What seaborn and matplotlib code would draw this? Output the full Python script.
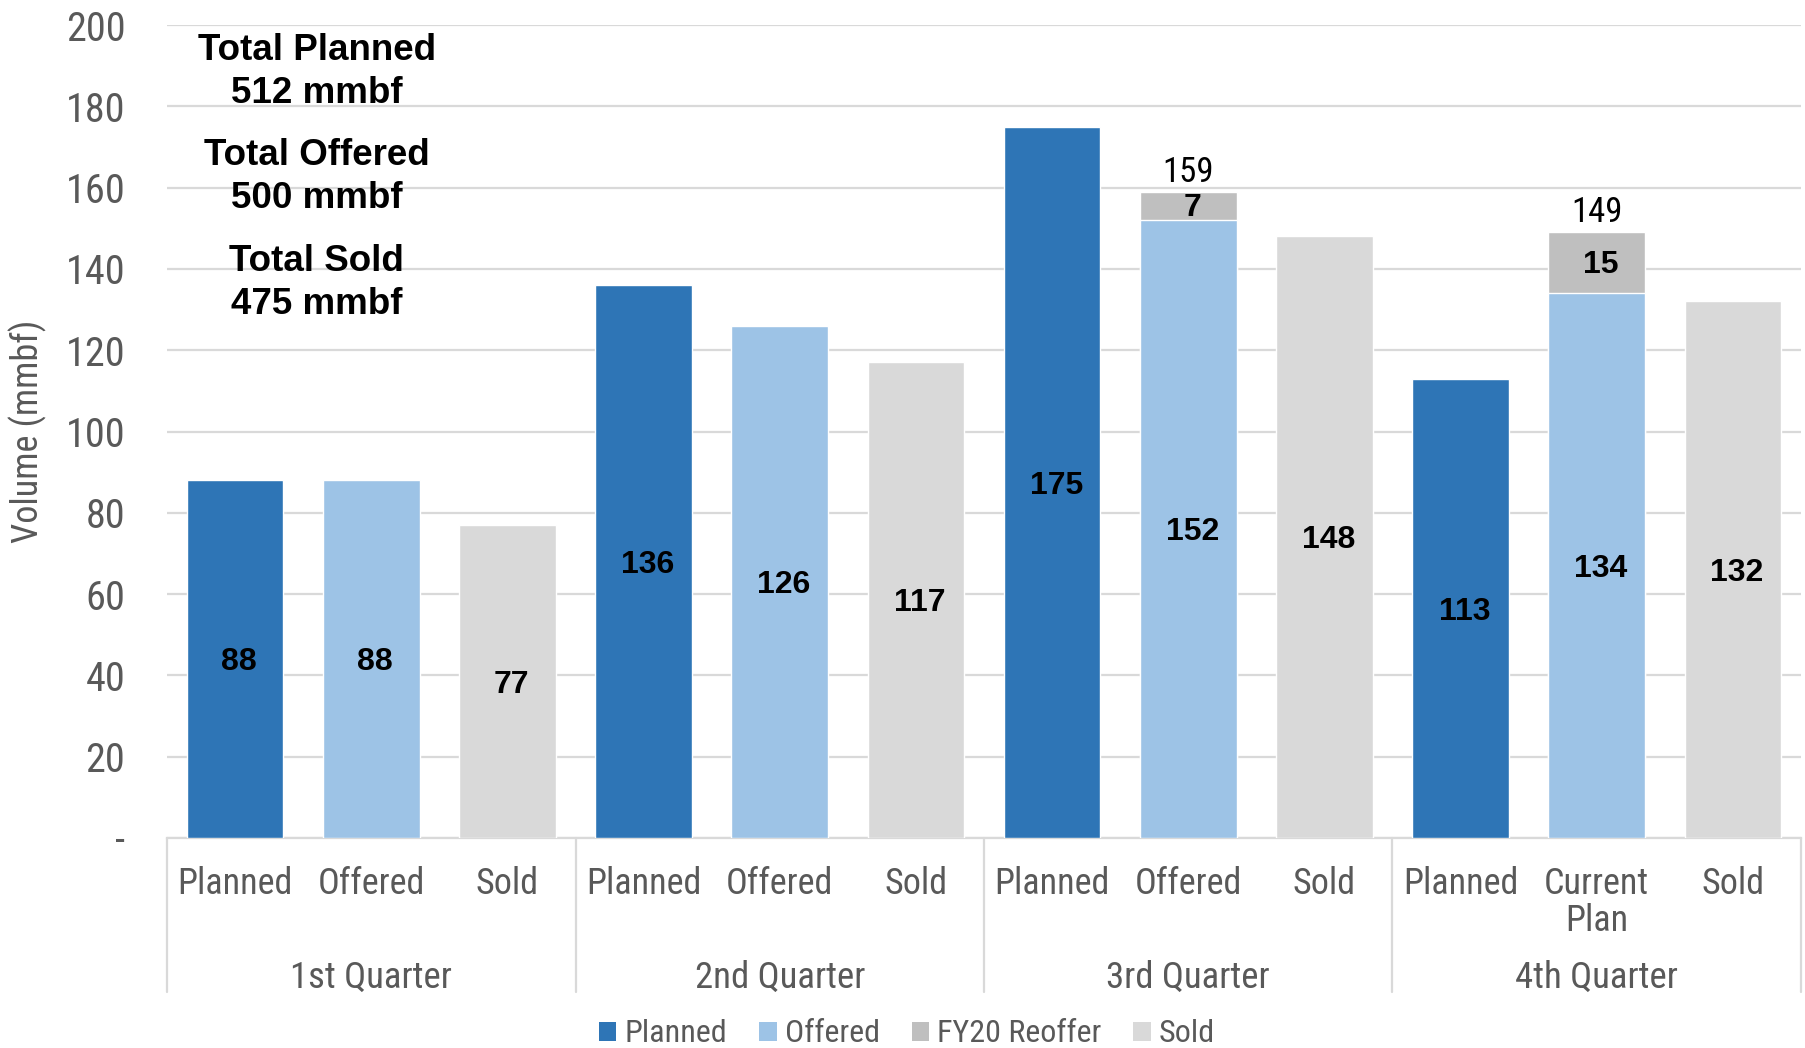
import matplotlib
matplotlib.use("Agg")
import matplotlib.pyplot as plt
import matplotlib.transforms as mtransforms
from matplotlib.patches import Patch
import seaborn as sns
import pandas as pd

# ---- data ----
quarters = ["1st Quarter", "2nd Quarter", "3rd Quarter", "4th Quarter"]
bar_labels = ["Planned", "Offered", "Sold",
              "Planned", "Offered", "Sold",
              "Planned", "Offered", "Sold",
              "Planned", "Current\nPlan", "Sold"]
bar_series = ["Planned", "Offered", "Sold"] * 4
bar_values = [88, 88, 77, 136, 126, 117, 175, 152, 148, 113, 134, 132]
reoffer_slots = [7, 10]
reoffer_values = [7, 15]
reoffer_totals = [159, 149]
ytick_values = [0, 20, 40, 60, 80, 100, 120, 140, 160, 180, 200]
ytick_labels = ["-", "20", "40", "60", "80", "100", "120", "140", "160", "180", "200"]
totals_text = ["Total Planned\n512 mmbf", "Total Offered\n500 mmbf", "Total Sold\n475 mmbf"]
totals_y = [188.5, 162.5, 136.5]
legend_names = ["Planned", "Offered", "FY20 Reoffer", "Sold"]
colors = {"Planned": "#2E75B6", "Offered": "#9DC3E6", "FY20 Reoffer": "#BFBFBF", "Sold": "#D9D9D9"}

sns.set_theme(style="white")
NARROW = ["Roboto Condensed", "Liberation Sans Narrow", "Roboto", "DejaVu Sans"]
BOLD = ["Liberation Sans", "DejaVu Sans"]
plt.rcParams["font.family"] = NARROW
GRAY = "#595959"

slots = [f"s{i}" for i in range(len(bar_values))]
df_main = pd.DataFrame({"slot": slots, "value": bar_values, "series": bar_series})
df_re = pd.DataFrame({"slot": [slots[i] for i in reoffer_slots],
                      "total": [bar_values[i] + r for i, r in zip(reoffer_slots, reoffer_values)]})

fig = plt.figure(figsize=(18.05, 10.48), dpi=100)
ax = fig.add_axes([167 / 1805, 1 - 838 / 1048, (1801 - 167) / 1805, (838 - 25) / 1048])

W = 0.71
sns.barplot(data=df_re, x="slot", y="total", order=slots, color=colors["FY20 Reoffer"],
            width=W, saturation=1, ax=ax, errorbar=None, zorder=2)
sns.barplot(data=df_main, x="slot", y="value", hue="series", order=slots,
            hue_order=["Planned", "Offered", "Sold"], palette=colors, dodge=False,
            width=W, saturation=1, ax=ax, errorbar=None, legend=False, zorder=3)

ax.set_ylim(0, 200)
ax.set_xlim(-0.5, len(slots) - 0.5)
ax.set_yticks(ytick_values)
ax.set_yticklabels(ytick_labels)
ax.yaxis.grid(True, color="#D9D9D9", lw=1.6, zorder=0)
ax.set_axisbelow(True)
ax.tick_params(axis="y", length=0, pad=30, labelsize=29, labelcolor=GRAY)
ax.set_xticks(range(len(slots)))
ax.set_xticklabels(bar_labels)
ax.tick_params(axis="x", length=0, pad=20, labelsize=26, labelcolor=GRAY)
for t in ax.get_xticklabels():
    t.set_linespacing(1.05)
ax.set_xlabel("")
ax.set_ylabel("Volume (mmbf)", fontsize=26, color=GRAY, va="center")
ax.yaxis.set_label_coords(-0.085, 0.5)
for s in ["top", "right", "left"]:
    ax.spines[s].set_visible(False)
ax.spines["bottom"].set_color("#D9D9D9")
ax.spines["bottom"].set_linewidth(1.6)

# value labels
for i, v in enumerate(bar_values):
    ax.text(i + 0.03, v / 2 - 0.8, f"{v}", ha="center", va="center", fontsize=23,
            fontweight="bold", family=BOLD, color="black", zorder=5)
for i, r, tot in zip(reoffer_slots, reoffer_values, reoffer_totals):
    base = bar_values[i]
    ax.text(i + 0.03, base + r / 2 - 0.5, f"{r}", ha="center", va="center", fontsize=23,
            fontweight="bold", family=BOLD, color="black", zorder=5)
    ax.text(i, base + r + 4.8, f"{tot}", ha="center", va="center", fontsize=25,
            color="black", zorder=5)

# totals annotation
for txt, y in zip(totals_text, totals_y):
    ax.text(0.6, y, txt, ha="center", va="center", fontsize=26.5, fontweight="bold",
            family=BOLD, color="black", linespacing=1.3, zorder=5)

# group labels and dividers
trans = mtransforms.blended_transform_factory(ax.transData, ax.transAxes)
for q, name in enumerate(quarters):
    ax.text(q * 3 + 1, -0.172, name, transform=trans, ha="center", va="center",
            fontsize=26.5, color=GRAY)
for q in range(len(quarters) + 1):
    ax.plot([q * 3 - 0.5, q * 3 - 0.5], [0, -0.19], transform=trans, color="#D9D9D9",
            lw=1.6, clip_on=False)

handles = [Patch(facecolor=colors[n], edgecolor="none", label=n) for n in legend_names]
fig.legend(handles=handles, loc="center", bbox_to_anchor=(907 / 1805, 1 - 1034 / 1048),
           ncol=4, frameon=False, fontsize=23, handlelength=0.55, handleheight=0.55,
           handletextpad=0.25, columnspacing=1.0, labelcolor=GRAY)

fig.savefig("out.png", dpi=100)
